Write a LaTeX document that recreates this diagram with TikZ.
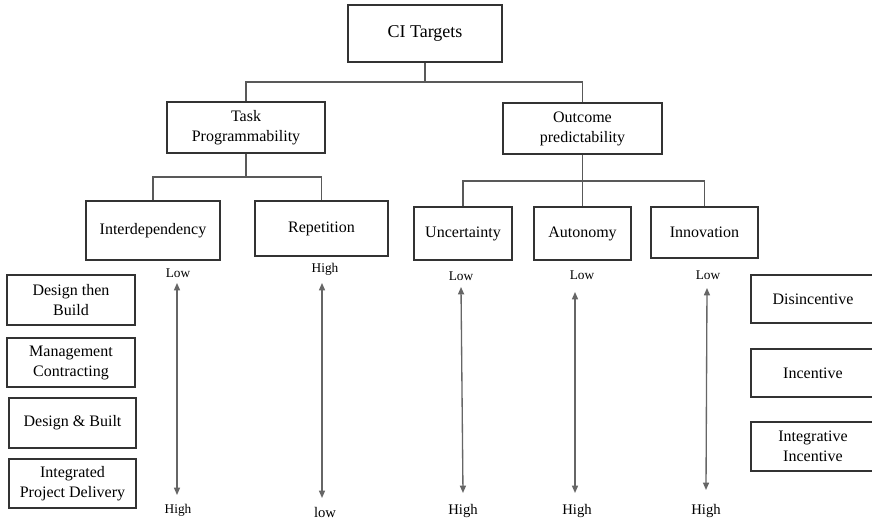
\documentclass[tikz,border=0pt]{standalone}
\usepackage{fontspec}
\setmainfont{Liberation Serif}
\usetikzlibrary{arrows.meta}
\begin{document}
\begin{tikzpicture}[x=0.75pt,y=-0.75pt,
  box/.style={draw=black!80,line width=1.4pt,fill=white,align=center,inner sep=0pt,
    font=\fontsize{12}{15}\selectfont,text=black},
  conn/.style={draw=black!65,line width=0.9pt},
  biarrow/.style={draw=black!60,line width=1pt,{Triangle[length=5.5pt,width=4.5pt]}-{Triangle[length=5.5pt,width=4.5pt]}},
  lbl/.style={inner sep=0pt,text=black,font=\fontsize{10}{12}\selectfont},
  lblb/.style={inner sep=0pt,text=black,font=\fontsize{11}{13}\selectfont}]
\clip (0,0) rectangle (872,523);
\fill[white] (0,0) rectangle (872,523);
% top levels
\node[box,minimum width=154*0.75pt,minimum height=57*0.75pt,font=\fontsize{13.5}{16}\selectfont] (ci) at (425,33.5) {CI Targets};
\node[box,minimum width=158*0.75pt,minimum height=51*0.75pt] (task) at (246,127.5) {Task\\Programmability};
\node[box,minimum width=159*0.75pt,minimum height=51*0.75pt] (out) at (582.5,128.5) {Outcome\\predictability};
% third level
\node[box,minimum width=134*0.75pt,minimum height=59*0.75pt] (inter) at (153,230.5) {Interdependency};
\node[box,minimum width=133*0.75pt,minimum height=55*0.75pt] (rep) at (321.5,228.5) {Repetition};
\node[box,minimum width=98*0.75pt,minimum height=53*0.75pt] (unc) at (463,233.5) {Uncertainty};
\node[box,minimum width=97*0.75pt,minimum height=53*0.75pt] (aut) at (582.5,233.5) {Autonomy};
\node[box,minimum width=107*0.75pt,minimum height=51*0.75pt] (inn) at (704.5,232.5) {Innovation};
% left boxes
\node[box,minimum width=128*0.75pt,minimum height=50*0.75pt] (dtb) at (71,300) {Design then\\Build};
\node[box,minimum width=128*0.75pt,minimum height=49*0.75pt] (mc) at (71,362.5) {Management\\Contracting};
\node[box,minimum width=127*0.75pt,minimum height=50*0.75pt] (db) at (72.5,423) {Design \& Built};
\node[box,minimum width=127*0.75pt,minimum height=49*0.75pt] (ipd) at (72.5,483.5) {Integrated\\Project Delivery};
% right boxes
\node[box,minimum width=124*0.75pt,minimum height=48*0.75pt] (dis) at (813,299) {Disincentive};
\node[box,minimum width=124*0.75pt,minimum height=48*0.75pt] (inc) at (813,373) {Incentive};
\node[box,minimum width=124*0.75pt,minimum height=49*0.75pt] (ii) at (813,446.5) {Integrative\\Incentive};
% connectors
\coordinate (b1) at (425,82);
\coordinate (b2) at (246,177);
\coordinate (b3) at (582.5,181);
\draw[conn] (ci.south) -- (b1);
\draw[conn] (task.north) |- (b1) -| (out.north);
\draw[conn] (task.south) -- (b2);
\draw[conn] (inter.north) |- (b2) -| (rep.north);
\draw[conn] (out.south) -- (aut.north);
\draw[conn] (unc.north) |- (b3) -| (inn.north);
% scales
\node[lbl] (l1) at (178,273) {Low};
\node[lbl] (h1) at (178,510) {High};
\coordinate (a1t) at (177,283); \coordinate (a1b) at (177,495);
\draw[biarrow] (a1t) -- (a1b);
\node[lbl] (l2) at (325,269) {High};
\node[lblb] (h2) at (325,512) {low};
\coordinate (a2t) at (322,283); \coordinate (a2b) at (322,498);
\draw[biarrow] (a2t) -- (a2b);
\node[lbl] (l3) at (461,276) {Low};
\node[lblb] (h3) at (463,511) {High};
\coordinate (a3t) at (461,287); \coordinate (a3b) at (463,493);
\draw[biarrow] (a3t) -- (a3b);
\node[lbl] (l4) at (582,275) {Low};
\node[lblb] (h4) at (577,511) {High};
\coordinate (a4t) at (575,292); \coordinate (a4b) at (575,493);
\draw[biarrow] (a4t) -- (a4b);
\node[lbl] (l5) at (708,275) {Low};
\node[lblb] (h5) at (706,511) {High};
\coordinate (a5t) at (707,288); \coordinate (a5b) at (706,490);
\draw[biarrow] (a5t) -- (a5b);
\end{tikzpicture}
\end{document}
